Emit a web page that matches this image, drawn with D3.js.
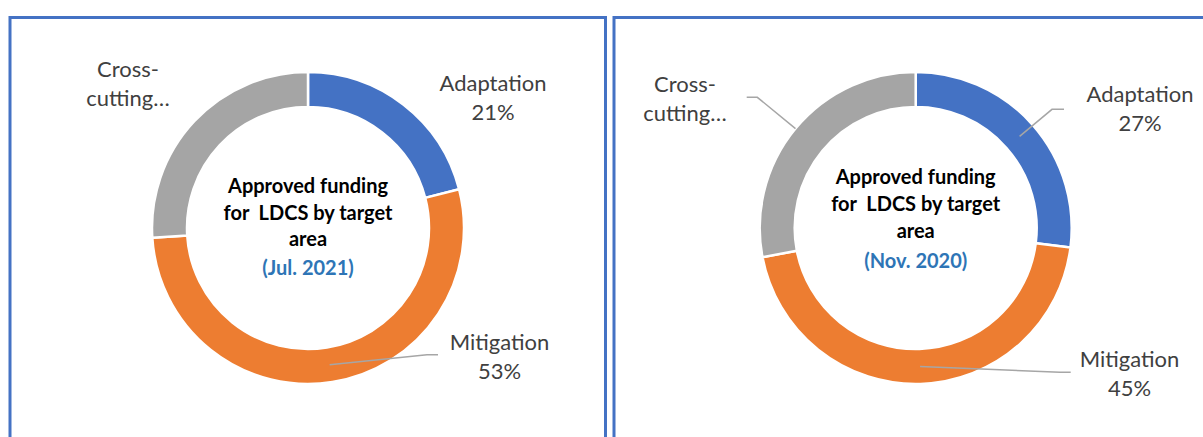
<!DOCTYPE html>
<html>
<head>
<meta charset="utf-8">
<script src="https://cdn.jsdelivr.net/npm/d3@7"></script>
<style>
  html, body { margin: 0; padding: 0; background: #fff; }
  svg { display: block; }
</style>
</head>
<body>
<svg id="chart" width="1203" height="437"></svg>
<script>
// data
var categories = ['Adaptation', 'Mitigation', 'Cross-cutting'];
var labelLines = [['Adaptation', '%'], ['Mitigation', '%'], ['Cross-', 'cutting…']];
var jul2021 = [21, 53, 26];
var nov2020 = [27, 45, 28];
var periods = ['(Jul. 2021)', '(Nov. 2020)'];
var titleLines = ['Approved funding', 'for  LDCS by target', 'area'];

var FONT = 'Lato, "Noto Sans", sans-serif';
var colors = d3.scaleOrdinal().domain(categories).range(['#4472C4', '#ED7D31', '#A5A5A5']);

var svg = d3.select('#chart');
var W = +svg.attr('width'), H = +svg.attr('height');

// size fonts so text widths match the original (Calibri) look
function fitSize(text, weight, target) {
    var t = svg.append('text')
        .attr('font-family', FONT)
        .attr('font-weight', weight)
        .attr('font-size', 100)
        .style('white-space', 'pre')
        .text(text);
    var w = t.node().getComputedTextLength();
    t.remove();
    return 100 * target / w;
}
var labelSize = fitSize('Adaptation', 400, 107);
var titleSize = fitSize('Approved funding', 700, 160);

// panel layouts
var panels = [
    {
        values: jul2021, period: periods[0],
        box: [10, 17.5, 595.5, 600],
        cx: 308, cy: 228,
        labels: [[185, -137], [191.5, 122], [-180, -151]],
        titleY: [-35, -8, 18, 47],
        leaders: [{i: 1, r: 138.5, end: [130, 126.7], knee: -11}]
    },
    {
        values: nov2020, period: periods[1],
        box: [614, 17.5, 620, 600],
        cx: 915.7, cy: 228,
        labels: [[224.3, -125.7], [213.8, 138.7], [-230.7, -136.3]],
        titleY: [-44, -17, 10, 40],
        leaders: [
            {i: 0, r: 138.5, end: [148.3, -118.7], knee: -12},
            {i: 2, r: 156, end: [-169, -130.7], knee: 10.6},
            {i: 1, r: 138.5, end: [155, 144.3], knee: -10.7}
        ]
    }
];

var pie = d3.pie().sort(null).value(function (d) { return d; });
var arc = d3.arc().innerRadius(121).outerRadius(156);
var lineGen = d3.line();

panels.forEach(function (p) {

    //panel border
    svg.append('rect')
        .attr('x', p.box[0])
        .attr('y', p.box[1])
        .attr('width', p.box[2])
        .attr('height', p.box[3])
        .attr('fill', 'none')
        .attr('stroke', '#4472C4')
        .attr('stroke-width', 3);

    var g = svg.append('g').attr('transform', 'translate(' + p.cx + ',' + p.cy + ')');
    var arcs = pie(p.values);

    //donut slices
    g.selectAll('path.slice')
        .data(arcs)
        .enter().append('path')
        .attr('class', 'slice')
        .attr('d', arc)
        .attr('fill', function (d, i) { return colors(categories[i]); })
        .attr('stroke', '#fff')
        .attr('stroke-width', 2.5);

    //leader lines
    p.leaders.forEach(function (l) {
        var a = arcs[l.i];
        var mid = (a.startAngle + a.endAngle) / 2;
        var start = [Math.sin(mid) * l.r, -Math.cos(mid) * l.r];
        var knee = [l.end[0] + l.knee, l.end[1]];
        g.append('path')
            .attr('d', lineGen([start, knee, l.end]))
            .attr('fill', 'none')
            .attr('stroke', '#A6A6A6')
            .attr('stroke-width', 1.5);
    });

    //slice labels
    arcs.forEach(function (a, i) {
        var pos = p.labels[i];
        var t = g.append('text')
            .attr('x', pos[0])
            .attr('y', pos[1])
            .attr('text-anchor', 'middle')
            .attr('font-family', FONT)
            .attr('font-size', labelSize)
            .attr('fill', '#404040');
        labelLines[i].forEach(function (line, k) {
            t.append('tspan')
                .attr('x', pos[0])
                .attr('y', pos[1] + k * 29)
                .text(line === '%' ? a.data + '%' : line);
        });
    });

    //center title
    titleLines.concat([p.period]).forEach(function (line, k) {
        g.append('text')
            .attr('x', 0)
            .attr('y', p.titleY[k])
            .attr('text-anchor', 'middle')
            .attr('font-family', FONT)
            .attr('font-weight', 700)
            .attr('font-size', titleSize)
            .attr('fill', k === 3 ? '#2E75B6' : '#000')
            .style('white-space', 'pre')
            .text(line);
    });
});
</script>
</body>
</html>
